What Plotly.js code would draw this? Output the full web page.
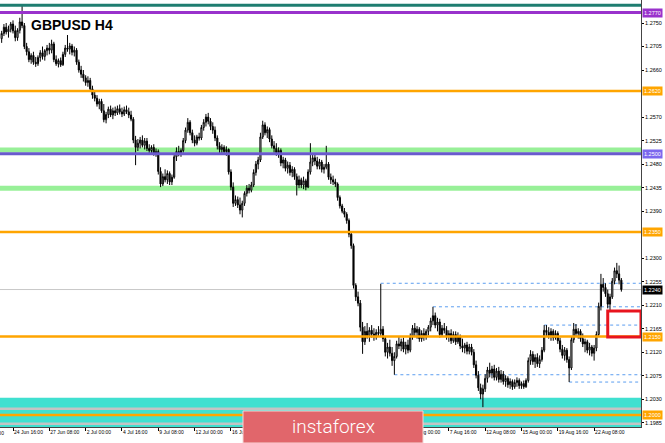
<!DOCTYPE html>
<html><head><meta charset="utf-8">
<script src="https://cdn.plot.ly/plotly-3.0.1.min.js"></script>
<style>html,body{margin:0;padding:0;background:#fff;} #chart{width:665px;height:443px;}</style>
</head><body><div id="chart"></div>
<script>
const openP = [
1.2720,1.2730,1.2742,1.2733,1.2738,1.2748,1.2735,1.2722,1.2736,1.2752,
1.2745,1.2705,1.2695,1.2680,1.2688,1.2675,1.2672,1.2684,1.2693,1.2686,
1.2697,1.2702,1.2698,1.2710,1.2680,1.2672,1.2678,1.2670,1.2690,1.2702,
1.2700,1.2706,1.2694,1.2698,1.2675,1.2660,1.2652,1.2645,1.2636,1.2640,
1.2624,1.2612,1.2606,1.2595,1.2600,1.2582,1.2565,1.2575,1.2585,1.2574,
1.2582,1.2578,1.2586,1.2580,1.2576,1.2584,1.2580,1.2574,1.2566,1.2526,
1.2512,1.2520,1.2526,1.2516,1.2524,1.2510,1.2506,1.2512,1.2500,1.2504,
1.2466,1.2442,1.2456,1.2450,1.2462,1.2446,1.2455,1.2494,1.2504,1.2500,
1.2506,1.2525,1.2545,1.2560,1.2540,1.2526,1.2520,1.2532,1.2530,1.2550,
1.2560,1.2570,1.2562,1.2552,1.2545,1.2530,1.2515,1.2508,1.2512,1.2504,
1.2508,1.2465,1.2436,1.2405,1.2412,1.2402,1.2392,1.2405,1.2424,1.2434,
1.2430,1.2440,1.2464,1.2480,1.2488,1.2532,1.2555,1.2540,1.2546,1.2528,
1.2515,1.2510,1.2502,1.2506,1.2482,1.2488,1.2472,1.2478,1.2464,1.2470,
1.2456,1.2440,1.2450,1.2440,1.2448,1.2436,1.2465,1.2484,1.2492,1.2486,
1.2476,1.2484,1.2470,1.2474,1.2480,1.2455,1.2450,1.2446,1.2442,1.2416,
1.2400,1.2390,1.2384,1.2372,1.2346,1.2324,1.2248,1.2226,1.2214,1.2168,
1.2140,1.2160,1.2152,1.2162,1.2155,1.2150,1.2158,1.2156,1.2164,1.2146,
1.2120,1.2130,1.2118,1.2104,1.2112,1.2136,1.2132,1.2140,1.2126,1.2134,
1.2124,1.2150,1.2166,1.2158,1.2164,1.2146,1.2156,1.2150,1.2160,1.2168,
1.2180,1.2190,1.2172,1.2178,1.2154,1.2166,1.2162,1.2150,1.2156,1.2142,
1.2154,1.2140,1.2150,1.2132,1.2128,1.2134,1.2122,1.2130,1.2120,1.2096,
1.2076,1.2052,1.2040,1.2050,1.2070,1.2086,1.2080,1.2088,1.2072,1.2084,
1.2068,1.2078,1.2064,1.2070,1.2058,1.2064,1.2054,1.2062,1.2066,1.2056,
1.2060,1.2054,1.2066,1.2104,1.2116,1.2102,1.2110,1.2098,1.2106,1.2124,
1.2162,1.2158,1.2152,1.2160,1.2148,1.2156,1.2142,1.2126,1.2114,1.2124,
1.2106,1.2090,1.2144,1.2164,1.2156,1.2160,1.2146,1.2136,1.2140,1.2124,
1.2130,1.2118,1.2128,1.2154,1.2208,1.2250,1.2244,1.2232,1.2212,1.2226,
1.2256,1.2276,1.2270,1.2258];
const highP = [
1.2735,1.2748,1.2750,1.2745,1.2752,1.2755,1.2745,1.2740,1.2760,1.2786,
1.2750,1.2712,1.2702,1.2692,1.2695,1.2685,1.2688,1.2698,1.2705,1.2700,
1.2708,1.2712,1.2718,1.2714,1.2688,1.2682,1.2684,1.2695,1.2708,1.2727,
1.2712,1.2710,1.2705,1.2702,1.2680,1.2668,1.2660,1.2650,1.2648,1.2645,
1.2630,1.2620,1.2612,1.2605,1.2605,1.2595,1.2580,1.2590,1.2592,1.2588,
1.2590,1.2592,1.2594,1.2588,1.2590,1.2592,1.2588,1.2582,1.2570,1.2534,
1.2528,1.2532,1.2535,1.2530,1.2530,1.2518,1.2516,1.2518,1.2510,1.2508,
1.2474,1.2462,1.2470,1.2468,1.2466,1.2460,1.2500,1.2512,1.2515,1.2510,
1.2530,1.2550,1.2568,1.2564,1.2546,1.2535,1.2536,1.2540,1.2555,1.2566,
1.2576,1.2578,1.2568,1.2560,1.2552,1.2535,1.2522,1.2518,1.2516,1.2514,
1.2510,1.2470,1.2445,1.2420,1.2418,1.2416,1.2410,1.2428,1.2440,1.2442,
1.2446,1.2470,1.2486,1.2494,1.2540,1.2563,1.2560,1.2552,1.2550,1.2535,
1.2524,1.2520,1.2512,1.2510,1.2494,1.2492,1.2485,1.2484,1.2476,1.2474,
1.2462,1.2458,1.2454,1.2456,1.2452,1.2470,1.2520,1.2498,1.2500,1.2494,
1.2490,1.2488,1.2480,1.2515,1.2484,1.2462,1.2458,1.2452,1.2445,1.2420,
1.2404,1.2396,1.2388,1.2376,1.2350,1.2328,1.2252,1.2236,1.2220,1.2178,
1.2170,1.2176,1.2168,1.2172,1.2166,1.2164,1.2170,1.2251,1.2170,1.2150,
1.2138,1.2144,1.2130,1.2120,1.2142,1.2150,1.2146,1.2148,1.2140,1.2144,
1.2156,1.2172,1.2176,1.2170,1.2168,1.2162,1.2166,1.2164,1.2172,1.2186,
1.2207,1.2196,1.2186,1.2184,1.2172,1.2176,1.2170,1.2162,1.2164,1.2160,
1.2160,1.2158,1.2154,1.2146,1.2138,1.2140,1.2136,1.2136,1.2126,1.2104,
1.2084,1.2060,1.2058,1.2078,1.2092,1.2100,1.2094,1.2096,1.2090,1.2092,
1.2086,1.2084,1.2076,1.2074,1.2070,1.2068,1.2068,1.2072,1.2070,1.2064,
1.2066,1.2070,1.2110,1.2124,1.2122,1.2116,1.2118,1.2114,1.2130,1.2172,
1.2172,1.2168,1.2166,1.2164,1.2162,1.2160,1.2148,1.2134,1.2130,1.2128,
1.2112,1.2150,1.2176,1.2174,1.2166,1.2164,1.2156,1.2146,1.2144,1.2138,
1.2134,1.2134,1.2160,1.2215,1.2270,1.2262,1.2252,1.2240,1.2232,1.2262,
1.2282,1.2291,1.2286,1.2262];
const lowP = [
1.2712,1.2725,1.2728,1.2722,1.2732,1.2730,1.2715,1.2716,1.2730,1.2740,
1.2700,1.2688,1.2675,1.2672,1.2670,1.2666,1.2668,1.2676,1.2680,1.2678,
1.2688,1.2690,1.2692,1.2675,1.2668,1.2665,1.2666,1.2668,1.2685,1.2695,
1.2690,1.2688,1.2686,1.2670,1.2655,1.2645,1.2638,1.2630,1.2628,1.2618,
1.2605,1.2600,1.2590,1.2585,1.2578,1.2560,1.2558,1.2568,1.2570,1.2566,
1.2572,1.2574,1.2575,1.2570,1.2572,1.2576,1.2568,1.2562,1.2520,1.2478,
1.2505,1.2510,1.2512,1.2508,1.2505,1.2500,1.2498,1.2496,1.2494,1.2460,
1.2436,1.2438,1.2445,1.2442,1.2440,1.2440,1.2452,1.2486,1.2495,1.2494,
1.2502,1.2520,1.2540,1.2535,1.2520,1.2514,1.2516,1.2525,1.2526,1.2544,
1.2552,1.2556,1.2545,1.2538,1.2524,1.2508,1.2500,1.2500,1.2498,1.2496,
1.2460,1.2430,1.2398,1.2400,1.2396,1.2384,1.2378,1.2400,1.2418,1.2424,
1.2426,1.2436,1.2458,1.2470,1.2484,1.2528,1.2535,1.2530,1.2522,1.2510,
1.2502,1.2496,1.2492,1.2476,1.2472,1.2466,1.2462,1.2458,1.2455,1.2450,
1.2420,1.2434,1.2434,1.2432,1.2430,1.2434,1.2460,1.2476,1.2478,1.2470,
1.2470,1.2464,1.2462,1.2470,1.2450,1.2442,1.2440,1.2436,1.2410,1.2395,
1.2386,1.2378,1.2366,1.2340,1.2318,1.2242,1.2218,1.2208,1.2160,1.2117,
1.2134,1.2146,1.2140,1.2148,1.2142,1.2144,1.2150,1.2150,1.2140,1.2112,
1.2108,1.2112,1.2094,1.2077,1.2108,1.2126,1.2122,1.2120,1.2116,1.2118,
1.2120,1.2144,1.2150,1.2146,1.2140,1.2140,1.2142,1.2144,1.2152,1.2160,
1.2172,1.2166,1.2160,1.2148,1.2150,1.2156,1.2144,1.2140,1.2136,1.2138,
1.2134,1.2136,1.2126,1.2120,1.2118,1.2116,1.2116,1.2114,1.2090,1.2070,
1.2046,1.2030,1.2015,1.2044,1.2062,1.2072,1.2070,1.2066,1.2066,1.2062,
1.2062,1.2058,1.2054,1.2052,1.2050,1.2048,1.2050,1.2054,1.2050,1.2050,
1.2050,1.2052,1.2062,1.2096,1.2096,1.2090,1.2092,1.2090,1.2102,1.2120,
1.2150,1.2146,1.2142,1.2142,1.2144,1.2136,1.2120,1.2108,1.2104,1.2100,
1.2063,1.2086,1.2138,1.2150,1.2146,1.2140,1.2130,1.2120,1.2118,1.2114,
1.2112,1.2104,1.2122,1.2150,1.2200,1.2236,1.2226,1.2204,1.2200,1.2222,
1.2250,1.2262,1.2250,1.2236];
const closeP = [
1.2730,1.2742,1.2733,1.2738,1.2748,1.2735,1.2722,1.2736,1.2752,1.2745,
1.2705,1.2695,1.2680,1.2688,1.2675,1.2672,1.2684,1.2693,1.2686,1.2697,
1.2702,1.2698,1.2710,1.2680,1.2672,1.2678,1.2670,1.2690,1.2702,1.2700,
1.2706,1.2694,1.2698,1.2675,1.2660,1.2652,1.2645,1.2636,1.2640,1.2624,
1.2612,1.2606,1.2595,1.2600,1.2582,1.2565,1.2575,1.2585,1.2574,1.2582,
1.2578,1.2586,1.2580,1.2576,1.2584,1.2580,1.2574,1.2566,1.2526,1.2512,
1.2520,1.2526,1.2516,1.2524,1.2510,1.2506,1.2512,1.2500,1.2504,1.2466,
1.2442,1.2456,1.2450,1.2462,1.2446,1.2455,1.2494,1.2504,1.2500,1.2506,
1.2525,1.2545,1.2560,1.2540,1.2526,1.2520,1.2532,1.2530,1.2550,1.2560,
1.2570,1.2562,1.2552,1.2545,1.2530,1.2515,1.2508,1.2512,1.2504,1.2508,
1.2465,1.2436,1.2405,1.2412,1.2402,1.2392,1.2405,1.2424,1.2434,1.2430,
1.2440,1.2464,1.2480,1.2488,1.2532,1.2555,1.2540,1.2546,1.2528,1.2515,
1.2510,1.2502,1.2506,1.2482,1.2488,1.2472,1.2478,1.2464,1.2470,1.2456,
1.2440,1.2450,1.2440,1.2448,1.2436,1.2465,1.2484,1.2492,1.2486,1.2476,
1.2484,1.2470,1.2474,1.2480,1.2455,1.2450,1.2446,1.2442,1.2416,1.2400,
1.2390,1.2384,1.2372,1.2346,1.2324,1.2248,1.2226,1.2214,1.2168,1.2140,
1.2160,1.2152,1.2162,1.2155,1.2150,1.2158,1.2156,1.2164,1.2146,1.2120,
1.2130,1.2118,1.2104,1.2112,1.2136,1.2132,1.2140,1.2126,1.2134,1.2124,
1.2150,1.2166,1.2158,1.2164,1.2146,1.2156,1.2150,1.2160,1.2168,1.2180,
1.2190,1.2172,1.2178,1.2154,1.2166,1.2162,1.2150,1.2156,1.2142,1.2154,
1.2140,1.2150,1.2132,1.2128,1.2134,1.2122,1.2130,1.2120,1.2096,1.2076,
1.2052,1.2040,1.2050,1.2070,1.2086,1.2080,1.2088,1.2072,1.2084,1.2068,
1.2078,1.2064,1.2070,1.2058,1.2064,1.2054,1.2062,1.2066,1.2056,1.2060,
1.2054,1.2066,1.2104,1.2116,1.2102,1.2110,1.2098,1.2106,1.2124,1.2162,
1.2158,1.2152,1.2160,1.2148,1.2156,1.2142,1.2126,1.2114,1.2124,1.2106,
1.2090,1.2144,1.2164,1.2156,1.2160,1.2146,1.2136,1.2140,1.2124,1.2130,
1.2118,1.2128,1.2154,1.2208,1.2250,1.2244,1.2232,1.2212,1.2226,1.2256,
1.2276,1.2270,1.2258,1.2240];

const timeLabels = ["24 Jun 16:00","27 Jun 08:00","2 Jul 00:00","4 Jul 16:00","9 Jul 08:00","12 Jul 00:00","16 Jul 16:00","19 Jul 08:00","24 Jul 00:00","26 Jul 16:00","31 Jul 08:00","5 Aug 00:00","7 Aug 16:00","12 Aug 08:00","15 Aug 00:00","19 Aug 16:00","22 Aug 08:00"];
const firstLabelBar = 5;      // bar index of "24 Jun 16:00"
const barsPerLabel = 16;
const priceTicks = [1.1985,1.2030,1.2075,1.2120,1.2165,1.2210,1.2255,1.2300,1.2390,1.2435,1.2480,1.2525,1.2570,1.2660,1.2705,1.2750];

const tealLine = 1.2784;
const purpleLevel = 1.2770;
const blueLevel = 1.2500;
const orangeLevels = [1.2620, 1.2350, 1.2150, 1.2000];
const greenBands = [1.2507, 1.2434];
const bidPrice = 1.2240;
const zoneTop = 1.2033;
const zoneGreyLines = [1.2012, 1.1983];
const dottedLevels = [1.2252, 1.2207, 1.2172, 1.2077, 1.2063];
const dottedFromBar = [167, 190, 239, 173, 250];
const boxTop = 1.2199, boxBottom = 1.2149, boxFromBar = 267;

const X_MIN = -0.73, X_MAX = 281.65;
const Y_MIN = 1.1977, Y_MAX = 1.2794;

const xs = closeP.map((_, i) => i);
const tickVals = timeLabels.map((_, k) => firstLabelBar + k * barsPerLabel);

const shapes = [];
function hline(y, color, width, layer, dash, x0) {
  shapes.push({type:'line', xref: x0 === undefined ? 'paper' : 'x', yref:'y',
    x0: x0 === undefined ? 0 : x0, x1: x0 === undefined ? 1 : X_MAX, y0:y, y1:y,
    layer: layer, line:{color:color, width:width, dash: dash || 'solid'}});
}
shapes.push({type:'rect', xref:'paper', yref:'y', x0:0, x1:1, y0:Y_MIN, y1:zoneTop,
  fillcolor:'#40e0d0', line:{width:0}, layer:'below'});
zoneGreyLines.forEach(p => hline(p, '#c4c4c4', 2.5, 'below'));
greenBands.forEach(p => hline(p, '#98f098', 5, 'below'));
hline(bidPrice, '#c8c8c8', 1, 'below');
dottedLevels.forEach((p, i) => hline(p, '#5c9ef0', 1, 'below', 'dot', dottedFromBar[i]));
hline(tealLine, '#1e7d70', 3, 'above');
hline(purpleLevel, '#9932cc', 3, 'above');
hline(blueLevel, '#6a5acd', 3, 'above');
orangeLevels.forEach(p => hline(p, '#ffa500', 2.5, 'above'));
shapes.push({type:'rect', xref:'x', yref:'y', x0:boxFromBar, x1:X_MAX, y0:boxBottom, y1:boxTop,
  line:{color:'#e8141e', width:3}, fillcolor:'rgba(0,0,0,0)', layer:'above'});
shapes.push({type:'rect', xref:'paper', yref:'paper', x0:243/641, x1:423/641, y0:-16/427, y1:16/427,
  fillcolor:'#e1666b', line:{color:'#f4d6d6', width:1}, layer:'above'});

const annotations = [];
function priceLabel(p, bg) {
  annotations.push({xref:'paper', yref:'y', x:1, y:p, xanchor:'left', yanchor:'middle', xshift:1,
    text:p.toFixed(4), showarrow:false, bgcolor:bg, borderpad:1,
    font:{family:'Liberation Sans, Arial, sans-serif', size:5.5, color:'#ffffff'}});
}
priceLabel(purpleLevel, '#9932cc');
priceLabel(blueLevel, '#7b68ee');
orangeLevels.forEach(p => priceLabel(p, '#ffa500'));
priceLabel(bidPrice, '#000000');

annotations.push({xref:'paper', yref:'paper', x:29/641, y:(427-25)/427, xanchor:'left', yanchor:'middle',
  text:'<b>GBPUSD H4</b>', showarrow:false,
  font:{family:'Liberation Sans, Arial, sans-serif', size:14, color:'#000'}});
annotations.push({xref:'paper', yref:'paper', x:6/641, y:-6/427, xanchor:'right', yanchor:'middle',
  text:'20 Jun 00:00', showarrow:false,
  font:{family:'Liberation Sans, Arial, sans-serif', size:5, color:'#000'}});
annotations.push({xref:'paper', yref:'paper', x:333/641, y:1/427, xanchor:'center', yanchor:'middle',
  text:'instaforex', showarrow:false,
  font:{family:'Roboto, sans-serif', size:19, color:'#ffffff', weight:300}});

const trace = {
  type:'candlestick', x:xs, open:openP, high:highP, low:lowP, close:closeP,
  increasing:{line:{color:'#000000', width:1}, fillcolor:'#ffffff'},
  decreasing:{line:{color:'#000000', width:1}, fillcolor:'#000000'},
  whiskerwidth:0, hoverinfo:'skip', showlegend:false
};

const layout = {
  width:665, height:443,
  margin:{l:0, r:24, t:0, b:16, pad:0},
  paper_bgcolor:'#ffffff', plot_bgcolor:'#ffffff',
  showlegend:false, hovermode:false,
  xaxis:{range:[X_MIN, X_MAX], rangeslider:{visible:false}, showgrid:false, zeroline:false,
    tickmode:'array', tickvals:tickVals, ticktext:timeLabels, tickangle:0,
    ticks:'outside', ticklen:3, tickcolor:'#000', tickwidth:1,
    ticklabelposition:'outside right',
    showline:true, linecolor:'#444', linewidth:1,
    tickfont:{family:'Liberation Sans, Arial, sans-serif', size:5, color:'#000'}},
  yaxis:{range:[Y_MIN, Y_MAX], side:'right', showgrid:false, zeroline:false,
    tickmode:'array', tickvals:priceTicks, ticktext:priceTicks.map(v => v.toFixed(4)),
    ticks:'outside', ticklen:2, tickcolor:'#000', tickwidth:1,
    showline:true, linecolor:'#444', linewidth:1,
    tickfont:{family:'Liberation Sans, Arial, sans-serif', size:5.5, color:'#000'}},
  shapes:shapes, annotations:annotations
};

Plotly.newPlot('chart', [trace], layout, {staticPlot:true, displayModeBar:false});
</script>
</body></html>
